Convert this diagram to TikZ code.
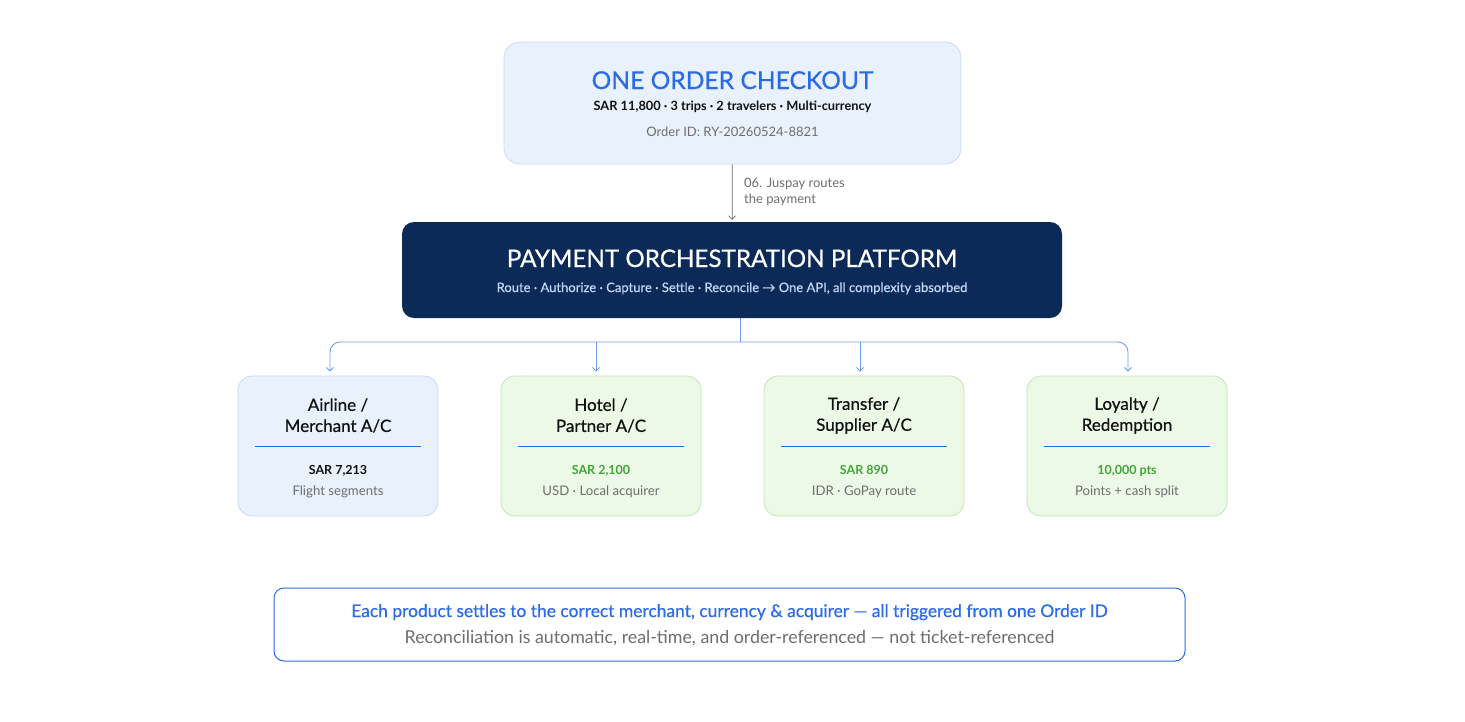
\documentclass[tikz,border=0pt]{standalone}
\usepackage{fontspec}
\setmainfont{Lato}
\newfontfamily\medium[FakeBold=0.6]{Lato}
\usetikzlibrary{arrows.meta,positioning}

\definecolor{paleblue}{HTML}{E9F1FD}
\definecolor{paleblueline}{HTML}{C8DAF6}
\definecolor{palegreen}{HTML}{ECF9E6}
\definecolor{palegreenline}{HTML}{C3E6B8}
\definecolor{brandblue}{HTML}{2C6BE8}
\definecolor{navy}{HTML}{0B2A58}
\definecolor{navytext}{HTML}{C3D6F4}
\definecolor{busblue}{HTML}{6F9CEE}
\definecolor{ruleblue}{HTML}{1D6FE3}
\definecolor{okgreen}{HTML}{43A33A}
\definecolor{softgray}{HTML}{6E6E6E}
\definecolor{inkblack}{HTML}{111111}

\begin{document}
\begin{tikzpicture}[
  x=1pt, y=-1pt,
  every node/.style={inner sep=0pt},
  panel/.style={
    rounded corners=16pt,
    line width=0.8pt
  },
  card/.style={
    draw,
    rounded corners=14pt,
    line width=0.8pt,
    minimum width=200pt,
    minimum height=140pt
  },
  bluecard/.style={card, draw=paleblueline, fill=paleblue},
  greencard/.style={card, draw=palegreenline, fill=palegreen},
  cardtitle/.style={align=center, text=inkblack, font=\fontsize{17}{21}\medium},
  amount/.style={anchor=base, font=\fontsize{12.5}{14}\selectfont\bfseries},
  detail/.style={anchor=base, text=softgray, font=\fontsize{13.2}{14}\selectfont},
  bus/.style={draw=busblue, line width=0.9pt},
  drop/.style={bus, -{Straight Barb[length=3.5pt,width=7pt]}, shorten >=4pt},
  flow/.style={draw=softgray, line width=0.7pt, -{Straight Barb[length=3.5pt,width=7pt]}, shorten >=2pt}
]
\useasboundingbox (0,0) rectangle (1465,721);

% order box
\node[panel, draw=paleblueline, fill=paleblue, minimum width=457pt, minimum height=122pt] (order) at (732.5,103) {};
\node[anchor=base, text=brandblue, font=\fontsize{24.6}{28}\medium] (orderTitle) at (732.5,89) {ONE ORDER CHECKOUT};
\node[anchor=base, text=inkblack, font=\fontsize{12.8}{15}\selectfont\bfseries] (orderSum) at (732.5,110) {SAR 11,800 · 3 trips · 2 travelers · Multi-currency};
\node[anchor=base, text=softgray, font=\fontsize{13}{15}\selectfont] (orderId) at (732.5,136) {Order ID: RY-20260524-8821};

% platform
\node[rounded corners=12pt, fill=navy, minimum width=660pt, minimum height=96pt] (plat) at (732,270) {};
\node[anchor=base, text=white, font=\fontsize{24.2}{28}\medium] (platTitle) at (732,267) {PAYMENT ORCHESTRATION PLATFORM};
\node[anchor=base, text=navytext, font=\fontsize{13}{14}\medium] (platSub) at (732,292) {Route · Authorize · Capture · Settle · Reconcile → One API, all complexity absorbed};

\draw[flow] (order) -- (plat);
\node[anchor=north west, align=left, text=softgray, font=\fontsize{13}{15.5}\selectfont] (note) at (744,178) {06. Juspay routes\\the payment};

% accounts
\node[bluecard] (air) at (338,446) {};
\node[greencard] (hotel) at (601,446) {};
\node[greencard] (transfer) at (864,446) {};
\node[greencard] (loyalty) at (1127,446) {};

\node[cardtitle] (airT) at (338,415.5) {Airline /\\Merchant A/C};
\node[cardtitle] (hotelT) at (601,415.5) {Hotel /\\Partner A/C};
\node[cardtitle] (transferT) at (864,415.5) {Transfer /\\Supplier A/C};
\node[cardtitle] (loyaltyT) at (1127,415.5) {Loyalty /\\Redemption};

\foreach \c in {air,hotel,transfer,loyalty}
  \draw[ruleblue, line width=1pt] ([xshift=-83pt]\c.center) -- ([xshift=83pt]\c.center);

\node[amount, text=inkblack] (airA) at (338,474) {SAR 7,213};
\node[detail] (airD) at (338,495) {Flight segments};
\node[amount, text=okgreen] (hotelA) at (601,474) {SAR 2,100};
\node[detail] (hotelD) at (601,495) {USD · Local acquirer};
\node[amount, text=okgreen] (transferA) at (864,474) {SAR 890};
\node[detail] (transferD) at (864,495) {IDR · GoPay route};
\node[amount, text=okgreen] (loyaltyA) at (1127,474) {10,000 pts};
\node[detail] (loyaltyD) at (1127,495) {Points + cash split};

% routing bus
\coordinate (hub) at (740,342);
\draw[bus] (plat.south -| hub) -- (hub);
\draw[drop, rounded corners=10pt] (hub) -| ([xshift=-8pt]air.north);
\draw[drop, rounded corners=10pt] (hub) -| ([xshift=1pt]loyalty.north);
\draw[drop] ([xshift=-5pt]hotel.north |- hub) -- ([xshift=-5pt]hotel.north);
\draw[drop] ([xshift=-4pt]transfer.north |- hub) -- ([xshift=-4pt]transfer.north);

% summary
\node[draw=brandblue, line width=1pt, rounded corners=10pt, fill=white, minimum width=911pt, minimum height=73pt] (summary) at (729.5,624.5) {};
\node[anchor=base, text=brandblue, font=\fontsize{17.4}{19}\medium] (sumMain) at (729.5,617) {Each product settles to the correct merchant, currency \& acquirer — all triggered from one Order ID};
\node[anchor=base, text=softgray, font=\fontsize{17.8}{19}\selectfont] (sumSub) at (729.5,643) {Reconciliation is automatic, real-time, and order-referenced — not ticket-referenced};
\end{tikzpicture}
\end{document}
